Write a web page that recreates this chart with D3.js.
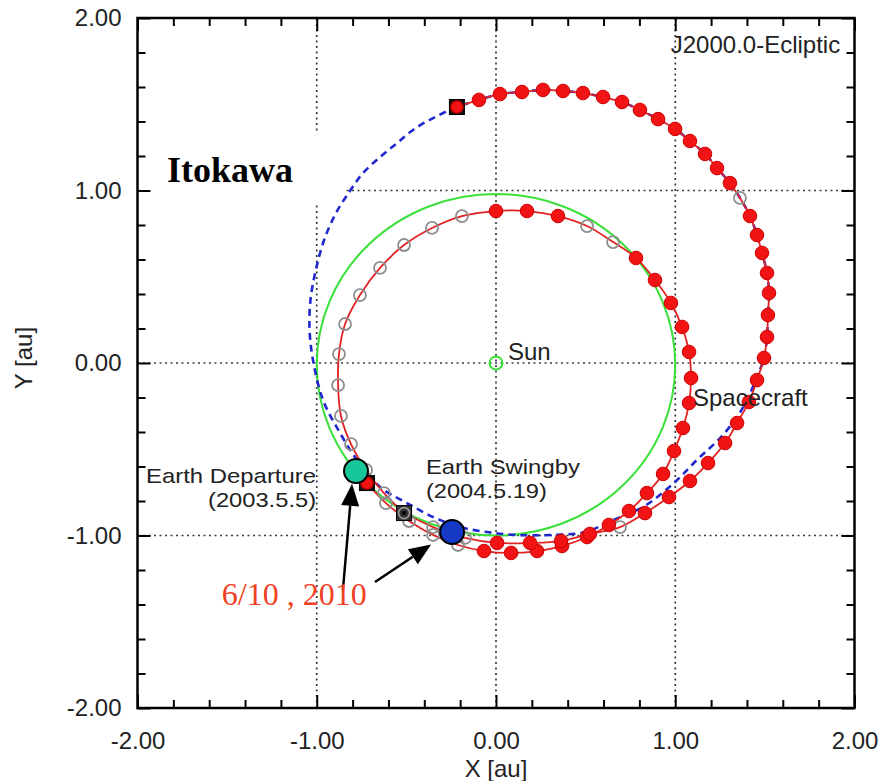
<!DOCTYPE html>
<html>
<head>
<meta charset="utf-8">
<script src="https://cdn.jsdelivr.net/npm/d3@7"></script>
<style>
  body { margin: 0; background: #fff; }
  svg { display: block; font-family: 'Liberation Sans', Arial, sans-serif; }
</style>
</head>
<body>
<div id="chart"></div>
<script>
// ---- data (au, J2000.0 ecliptic) ----
const majorTicks = [-2, -1, 0, 1, 2];
const minorTicks = [-1.8, -1.6, -1.4, -1.2, -0.8, -0.6, -0.4, -0.2,
                    0.2, 0.4, 0.6, 0.8, 1.2, 1.4, 1.6, 1.8];
const gridValues = [-1, 0, 1];

// Earth orbit: [cx, cy, rx, ry]
const earthOrbit = [0, -0.01, 1.0, 0.99];
const sunPos = [0, 0];

// Itokawa orbit (read around the dashed curve, closed)
const itokawaOrbit = [
  [1.523, 0.406], [1.517, 0.278], [1.512, 0.151], [1.495, 0.029], [1.456, -0.081],
  [1.400, -0.214], [1.345, -0.313], [1.250, -0.435], [1.121, -0.562], [0.987, -0.701],
  [0.820, -0.835], [0.653, -0.910], [0.497, -0.980], [0.301, -0.997], [0.117, -0.997],
  [-0.050, -0.980], [-0.201, -0.951], [-0.351, -0.893], [-0.497, -0.812], [-0.647, -0.719],
  [-0.775, -0.562], [-0.870, -0.406], [-0.965, -0.214], [-1.021, 0.017], [-1.040, 0.190],
  [-1.035, 0.365], [-1.005, 0.540], [-0.960, 0.710], [-0.895, 0.865], [-0.815, 0.997],
  [-0.742, 1.101], [-0.647, 1.194], [-0.552, 1.275], [-0.463, 1.351], [-0.351, 1.420],
  [-0.218, 1.484], [-0.095, 1.525], [0.022, 1.559], [0.145, 1.571], [0.262, 1.583],
  [0.374, 1.577], [0.485, 1.565], [0.597, 1.542], [0.703, 1.513], [0.803, 1.467],
  [0.904, 1.414], [0.999, 1.357], [1.082, 1.287], [1.166, 1.212], [1.233, 1.130],
  [1.305, 1.043], [1.361, 0.957], [1.417, 0.852], [1.456, 0.742], [1.484, 0.638],
  [1.512, 0.522]
];

// spacecraft leg 1: Earth departure -> Earth swingby  [x, y, thrust(1)/coast(0)]
const leg1 = [
  [-0.720, -0.696, 1], [-0.614, -0.812, 0], [-0.485, -0.916, 0], [-0.351, -0.997, 0],
  [-0.212, -1.055, 0], [-0.067, -1.090, 1], [0.084, -1.101, 1], [0.229, -1.090, 1],
  [0.368, -1.061, 1], [0.508, -1.009, 1], [0.630, -0.939, 1], [0.742, -0.858, 1],
  [0.842, -0.754, 1], [0.932, -0.643, 1], [0.993, -0.510, 1], [1.043, -0.377, 1],
  [1.077, -0.232, 1], [1.088, -0.087, 1], [1.077, 0.064, 1], [1.038, 0.209, 1],
  [0.976, 0.348, 1], [0.887, 0.481, 1], [0.781, 0.609, 1], [0.653, 0.701, 0],
  [0.508, 0.794, 0], [0.346, 0.852, 1], [0.173, 0.881, 1], [0.000, 0.881, 1],
  [-0.190, 0.852, 0], [-0.357, 0.783, 0], [-0.513, 0.684, 0], [-0.647, 0.551, 0],
  [-0.759, 0.394, 0], [-0.842, 0.226, 0], [-0.876, 0.052, 0], [-0.881, -0.128, 0],
  [-0.865, -0.307, 0], [-0.809, -0.470, 0], [-0.725, -0.620, 0], [-0.625, -0.754, 0],
  [-0.513, -0.870, 0]
];

// spacecraft leg 2: Earth swingby -> Itokawa arrival
const leg2 = [
  [-0.513, -0.870, 0], [-0.351, -0.951, 0], [-0.173, -1.014, 0], [0.006, -1.043, 1],
  [0.190, -1.043, 1], [0.363, -1.032, 1], [0.524, -0.991, 1], [0.692, -0.951, 0],
  [0.831, -0.870, 1], [0.965, -0.777, 1], [1.082, -0.684, 1], [1.183, -0.580, 1],
  [1.278, -0.464, 1], [1.345, -0.348, 1], [1.411, -0.226, 1], [1.456, -0.099, 1],
  [1.495, 0.029, 1], [1.512, 0.151, 1], [1.517, 0.278, 1], [1.523, 0.406, 1],
  [1.512, 0.522, 1], [1.484, 0.638, 1], [1.456, 0.742, 1], [1.417, 0.852, 1],
  [1.361, 0.957, 0], [1.305, 1.043, 1], [1.233, 1.130, 1], [1.166, 1.212, 1],
  [1.082, 1.287, 1], [0.999, 1.357, 1], [0.904, 1.414, 1], [0.803, 1.467, 1],
  [0.703, 1.513, 1], [0.597, 1.542, 1], [0.485, 1.565, 1], [0.374, 1.577, 1],
  [0.262, 1.583, 1], [0.145, 1.571, 1], [0.022, 1.559, 1], [-0.095, 1.525, 1],
  [-0.218, 1.484, 1]
];

// event squares [x, y, inner: 'red' | 'coast']
const eventSquares = [
  [-0.720, -0.696, 'red'],   // Earth departure 2003.5.5
  [-0.513, -0.870, 'coast'], // Earth swingby 2004.5.19
  [-0.218, 1.484, 'red']     // Itokawa arrival
];

// positions on 6/10, 2010
const june2010 = [
  {name: 'itokawa', x: -0.781, y: -0.626},
  {name: 'earth', x: -0.245, y: -0.980}
];

// arrows [x0, y0, x1, y1] from the date label to the two positions
const arrows = [
  [-0.854, -1.316, -0.803, -0.700],
  [-0.675, -1.270, -0.362, -1.052]
];

// ---- chart ----
const W = 883, H = 781;
const x = d3.scaleLinear().domain([-2, 2]).range([137.5, 854.5]);
const y = d3.scaleLinear().domain([-2, 2]).range([708, 18]);

const svg = d3.select('#chart').append('svg')
  .attr('width', W)
  .attr('height', H);

svg.append('rect').attr('width', W).attr('height', H).attr('fill', '#fff');

const g = svg.append('g');

// dotted grid
g.selectAll('.grid-v')
  .data(gridValues)
  .enter().append('line')
    .attr('x1', d => x(d)).attr('x2', d => x(d))
    .attr('y1', y(-2)).attr('y2', y(2))
    .attr('stroke', '#3a3a3a').attr('stroke-width', 1.7)
    .attr('stroke-dasharray', '2,3.5');

g.selectAll('.grid-h')
  .data(gridValues)
  .enter().append('line')
    .attr('y1', d => y(d)).attr('y2', d => y(d))
    .attr('x1', x(-2)).attr('x2', x(2))
    .attr('stroke', '#3a3a3a').attr('stroke-width', 1.7)
    .attr('stroke-dasharray', '2,3.5');

// white box behind the "Itokawa" label
g.append('rect')
  .attr('x', x(-1.99)).attr('y', y(1.327))
  .attr('width', x(-0.842) - x(-1.99))
  .attr('height', y(0.928) - y(1.327))
  .attr('fill', '#fff');

// Earth orbit
g.append('ellipse')
  .attr('cx', x(earthOrbit[0])).attr('cy', y(earthOrbit[1]))
  .attr('rx', x(earthOrbit[2]) - x(0))
  .attr('ry', y(0) - y(earthOrbit[3]))
  .attr('fill', 'none')
  .attr('stroke', '#38e038')
  .attr('stroke-width', 2);

// Itokawa orbit
g.append('path')
  .datum(itokawaOrbit)
  .attr('d', d3.line().x(d => x(d[0])).y(d => y(d[1])).curve(d3.curveCatmullRomClosed.alpha(0.5)))
  .attr('fill', 'none')
  .attr('stroke', '#2228d0')
  .attr('stroke-width', 2.6)
  .attr('stroke-dasharray', '7,5');

// spacecraft trajectory lines
const trajLine = d3.line().x(d => x(d[0])).y(d => y(d[1])).curve(d3.curveCatmullRom.alpha(0.5));
g.selectAll('.leg')
  .data([leg1, leg2])
  .enter().append('path')
    .attr('d', trajLine)
    .attr('fill', 'none')
    .attr('stroke', '#e32222')
    .attr('stroke-width', 1.8);

// sample points (skip the ones under event squares)
const points = leg1.slice(1, -1).concat(leg2.slice(1, -1));

g.selectAll('.coast')
  .data(points.filter(d => d[2] === 0))
  .enter().append('circle')
    .attr('cx', d => x(d[0])).attr('cy', d => y(d[1]))
    .attr('r', 6)
    .attr('fill', 'none')
    .attr('stroke', '#8e8e8e')
    .attr('stroke-width', 1.8);

g.selectAll('.thrust')
  .data(points.filter(d => d[2] === 1))
  .enter().append('circle')
    .attr('cx', d => x(d[0])).attr('cy', d => y(d[1]))
    .attr('r', 6.8)
    .attr('fill', '#f21414')
    .attr('stroke', '#d00000')
    .attr('stroke-width', 1);

// event squares
const sq = g.selectAll('.event')
  .data(eventSquares)
  .enter().append('g')
    .attr('transform', d => `translate(${x(d[0])},${y(d[1])})`);

sq.append('rect')
  .attr('x', -7.5).attr('y', -7.5).attr('width', 15).attr('height', 15)
  .attr('fill', d => d[2] === 'red' ? '#111' : '#333')
  .attr('stroke', '#000').attr('stroke-width', 1);

sq.append('circle')
  .attr('r', d => d[2] === 'red' ? 6 : 5.5)
  .attr('fill', d => d[2] === 'red' ? '#f21414' : 'none')
  .attr('stroke', d => d[2] === 'red' ? '#d00000' : '#9a9a9a')
  .attr('stroke-width', 1.6);

sq.filter(d => d[2] !== 'red').append('circle')
  .attr('r', 2).attr('fill', '#000');

// Sun
g.append('circle')
  .attr('cx', x(sunPos[0])).attr('cy', y(sunPos[1]))
  .attr('r', 6.5)
  .attr('fill', 'none')
  .attr('stroke', '#38e038')
  .attr('stroke-width', 2);

// 6/10 2010 positions
g.selectAll('.june')
  .data(june2010)
  .enter().append('circle')
    .attr('cx', d => x(d.x)).attr('cy', d => y(d.y))
    .attr('r', 12)
    .attr('fill', d => d.name === 'earth' ? '#1539c4' : '#17c699')
    .attr('stroke', '#000')
    .attr('stroke-width', 2);

// arrows
arrows.forEach(([ax0, ay0, ax1, ay1]) => {
  const x0 = x(ax0), y0 = y(ay0), x1 = x(ax1), y1 = y(ay1);
  const ang = Math.atan2(y1 - y0, x1 - x0);
  const len = 22, hw = 9;
  const bx = x1 - len * Math.cos(ang), by = y1 - len * Math.sin(ang);
  g.append('line')
    .attr('x1', x0).attr('y1', y0).attr('x2', bx).attr('y2', by)
    .attr('stroke', '#000').attr('stroke-width', 2.5);
  g.append('polygon')
    .attr('points', [
      [x1, y1],
      [bx + hw * Math.sin(ang), by - hw * Math.cos(ang)],
      [bx - hw * Math.sin(ang), by + hw * Math.cos(ang)]
    ].map(p => p.join(',')).join(' '))
    .attr('fill', '#000');
});

// frame + inward ticks
const axisLayer = svg.append('g');
function tickAxis(axis, tr, vals, size) {
  const a = axisLayer.append('g')
    .attr('transform', tr)
    .call(axis.tickValues(vals).tickSizeInner(-size).tickSizeOuter(0).tickFormat(''));
  a.select('.domain').remove();
  a.selectAll('line').attr('stroke', '#000').attr('stroke-width', 2);
  return a;
}
tickAxis(d3.axisBottom(x), `translate(0,${y(-2)})`, minorTicks, 8);
tickAxis(d3.axisBottom(x), `translate(0,${y(-2)})`, majorTicks, 13);
tickAxis(d3.axisTop(x), `translate(0,${y(2)})`, minorTicks, 8);
tickAxis(d3.axisTop(x), `translate(0,${y(2)})`, majorTicks, 13);
tickAxis(d3.axisLeft(y), `translate(${x(-2)},0)`, minorTicks, 8);
tickAxis(d3.axisLeft(y), `translate(${x(-2)},0)`, majorTicks, 13);
tickAxis(d3.axisRight(y), `translate(${x(2)},0)`, minorTicks, 8);
tickAxis(d3.axisRight(y), `translate(${x(2)},0)`, majorTicks, 13);

axisLayer.append('rect')
  .attr('x', x(-2)).attr('y', y(2))
  .attr('width', x(2) - x(-2)).attr('height', y(-2) - y(2))
  .attr('fill', 'none')
  .attr('stroke', '#000')
  .attr('stroke-width', 2.5);

// tick labels
const fmt = d => d.toFixed(2);
const xLab = axisLayer.append('g')
  .attr('transform', `translate(0,${y(-2)})`)
  .call(d3.axisBottom(x).tickValues(majorTicks).tickSize(0).tickPadding(24).tickFormat(fmt));
const yLab = axisLayer.append('g')
  .attr('transform', `translate(${x(-2)},0)`)
  .call(d3.axisLeft(y).tickValues(majorTicks).tickSize(0).tickPadding(16).tickFormat(fmt));
[xLab, yLab].forEach(a => {
  a.select('.domain').remove();
  a.selectAll('text')
    .attr('font-family', "'Liberation Sans', Arial, sans-serif")
    .attr('font-size', 24)
    .attr('fill', '#222');
});

// axis titles
svg.append('text')
  .attr('x', x(0)).attr('y', 777)
  .attr('text-anchor', 'middle')
  .attr('font-size', 24).attr('fill', '#222')
  .text('X [au]');
svg.append('text')
  .attr('transform', `translate(32,${y(0) - 5}) rotate(-90)`)
  .attr('text-anchor', 'middle')
  .attr('font-size', 24).attr('fill', '#222')
  .text('Y [au]');

// annotations
const notes = svg.append('g').attr('font-size', 24).attr('fill', '#222');
notes.append('text').attr('x', x(1.92)).attr('y', y(1.80)).attr('text-anchor', 'end').text('J2000.0-Ecliptic');
notes.append('text').attr('x', x(0.067)).attr('y', y(0.017)).text('Sun');
notes.append('text').attr('x', x(1.099)).attr('y', y(-0.249)).text('Spacecraft');

// two-line labels (slightly smaller face, stretched to the reference widths)
function twoLine(ax, ay, lines, widths, anchor) {
  const t = notes.append('text')
    .attr('x', x(ax)).attr('y', y(ay))
    .attr('font-size', 21)
    .attr('text-anchor', anchor);
  lines.forEach((s, i) => {
    t.append('tspan')
      .attr('x', x(ax))
      .attr('dy', i === 0 ? 0 : 24)
      .attr('textLength', widths[i])
      .attr('lengthAdjust', 'spacingAndGlyphs')
      .text(s);
  });
}
twoLine(-1.004, -0.696, ['Earth Departure', '(2003.5.5)'], [170, 108], 'end');
twoLine(-0.391, -0.646, ['Earth Swingby', '(2004.5.19)'], [154, 121], 'start');

svg.append('text')
  .attr('x', x(-1.835)).attr('y', y(1.049))
  .attr('font-family', "'Liberation Serif', 'Times New Roman', serif")
  .attr('font-weight', 'bold')
  .attr('font-size', 36)
  .attr('fill', '#000')
  .text('Itokawa');

svg.append('text')
  .attr('x', x(-1.53)).attr('y', y(-1.403))
  .attr('font-family', "'Liberation Serif', 'Times New Roman', serif")
  .attr('font-size', 32)
  .attr('fill', '#f0401e')
  .text('6/10 , 2010');
</script>
</body>
</html>
